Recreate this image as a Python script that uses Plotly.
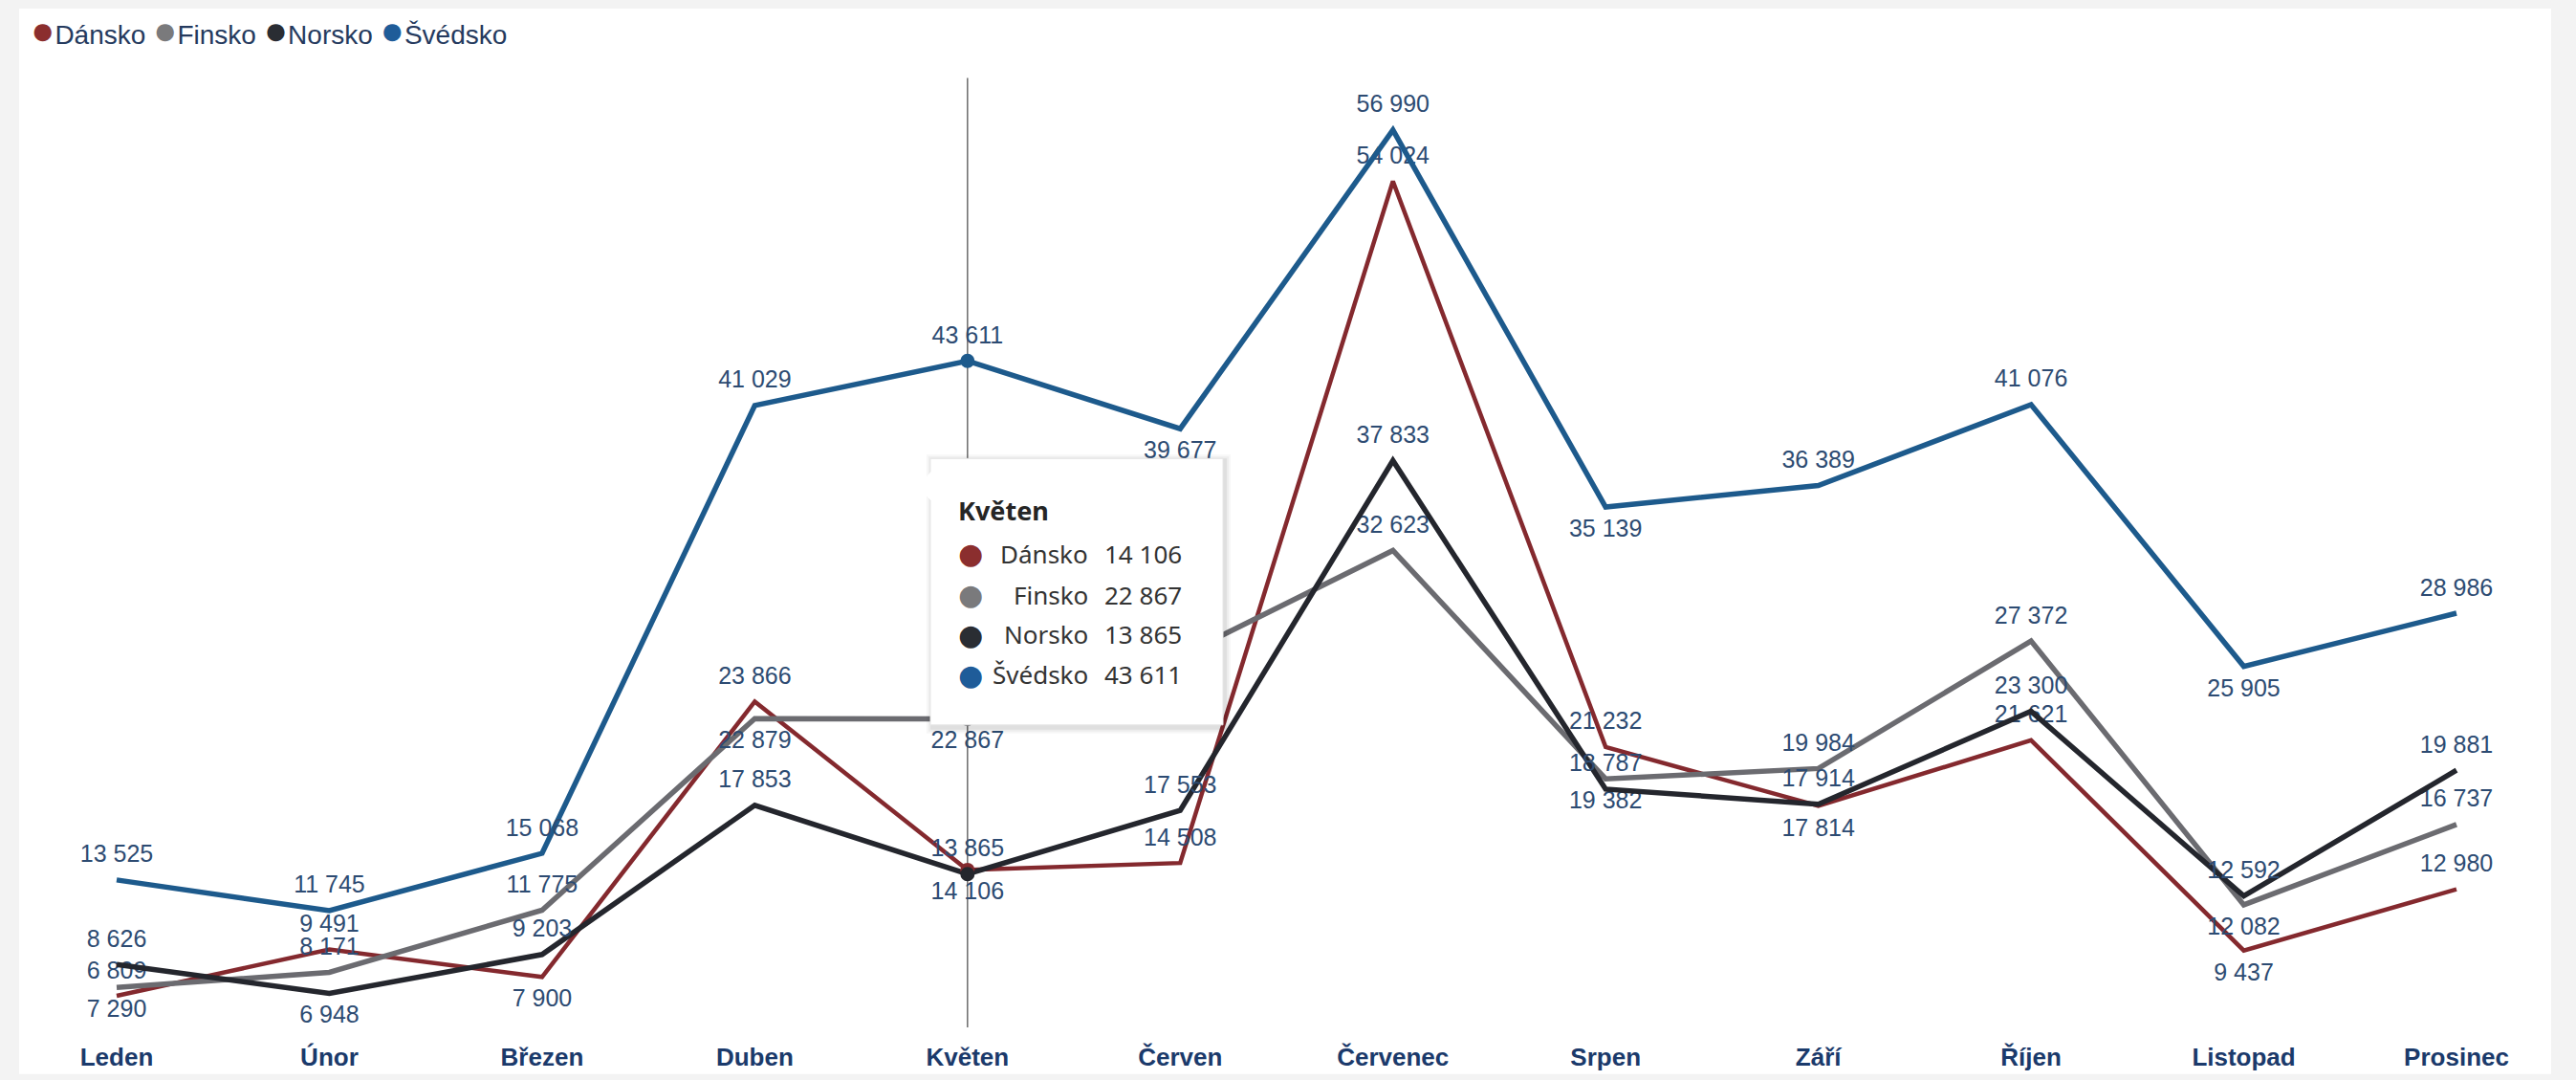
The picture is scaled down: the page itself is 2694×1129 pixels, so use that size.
import plotly.graph_objects as go

# monthly values per country
months = ['Leden', 'Únor', 'Březen', 'Duben', 'Květen', 'Červen',
          'Červenec', 'Srpen', 'Září', 'Říjen', 'Listopad', 'Prosinec']
dansko = [6809, 9491, 7900, 23866, 14106, 14508, 54024, 21232, 17814, 21621, 9437, 12980]
finsko = [7290, 8171, 11775, 22879, 22867, 26500, 32623, 19382, 19984, 27372, 12082, 16737]
norsko = [8626, 6948, 9203, 17853, 13865, 17553, 37833, 18787, 17914, 23300, 12592, 19881]
svedsko = [13525, 11745, 15068, 41029, 43611, 39677, 56990, 35139, 36389, 41076, 25905, 28986]
hover_month = 4  # Květen

# label placement (t = above, b = below, - = hidden behind tooltip)
pos_dansko = 'ttbtbtttbtbt'
pos_finsko = 'bttbb-tbttbt'
pos_norsko = 'tbtttttttttt'
pos_svedsko = 'tttttbtbttbt'

series = [
	('Dánsko', dansko, '#84292e', '#8b2e2e', 4.5, pos_dansko),
	('Finsko', finsko, '#6b6b70', '#7a7a7c', 5.5, pos_finsko),
	('Norsko', norsko, '#24262d', '#2a2d33', 5.5, pos_norsko),
	('Švédsko', svedsko, '#1d5a8c', '#1f5c99', 5.5, pos_svedsko),
]

W, H = 2694, 1129
L, R, T, B = 20, 2668, 9, 1080


def px(x):
	return (x - L) / (R - L)


def py(y):
	return (B - y) / (B - T)


def fmt(v):
	return f'{v:,}'.replace(',', ' ')


fig = go.Figure()

for name, vals, color, lcolor, width, pos in series:
	fig.add_trace(go.Scatter(
		x=months, y=vals, name=name, mode='lines+markers+text',
		line=dict(color=color, width=width),
		marker=dict(size=18, opacity=0, color=color),
		text=['' if p == '-' else fmt(v) for v, p in zip(vals, pos)],
		textposition=['bottom center' if p == 'b' else 'top center' for p in pos],
		textfont=dict(family='Liberation Sans, Arial', size=25, color='#2d4b72'),
		cliponaxis=False, showlegend=False,
	))

# hover markers on Květen
for name, vals, color, lcolor, width, pos in series:
	fig.add_trace(go.Scatter(
		x=[months[hover_month]], y=[vals[hover_month]], mode='markers',
		marker=dict(size=15, color=color), showlegend=False,
	))

shapes = [
	# white card
	dict(type='rect', xref='paper', yref='paper', x0=0, x1=1, y0=py(H), y1=1,
		fillcolor='white', line=dict(width=0), layer='below'),
	# hover line
	dict(type='line', xref='x', yref='paper', x0=months[hover_month], x1=months[hover_month],
		y0=0, y1=py(82), line=dict(color='#6a6a6a', width=1.5), layer='below'),
]

# tooltip box with soft shadow
tx0, tx1, ty0, ty1 = 973, 1279, 482, 762
for i, a in enumerate([0.03, 0.04, 0.06]):
	d = 6 - 2 * i
	shapes.append(dict(type='rect', xref='paper', yref='paper',
		x0=px(tx0 - d + 2), x1=px(tx1 + d + 2), y0=py(ty1 + d + 3), y1=py(ty0 - d + 2),
		fillcolor=f'rgba(0,0,0,{a})', line=dict(width=0), layer='above'))
shapes.append(dict(type='rect', xref='paper', yref='paper',
	x0=px(tx0), x1=px(tx1), y0=py(ty1), y1=py(ty0),
	fillcolor='white', line=dict(color='#e6e6e6', width=1), layer='above'))
shapes.append(dict(type='path', xref='paper', yref='paper',
	path=f'M {px(tx0 + 1)} {py(496)} L {px(960)} {py(511)} L {px(tx0 + 1)} {py(526)} Z',
	fillcolor='white', line=dict(color='white', width=1), layer='above'))

# legend: coloured dot directly before each name
legend_text = ' '.join(
	f"<span style='color:{lcolor};font-size:42px'>●</span>{name}"
	for name, vals, color, lcolor, width, pos in series
)
annotations = [dict(
	xref='paper', yref='paper', x=px(30), y=py(32), xanchor='left', yanchor='middle',
	text=legend_text, showarrow=False,
	font=dict(family='Liberation Sans, Arial', size=28, color='#253a5e'),
)]

annotations.append(dict(
	xref='paper', yref='paper', x=px(1000), y=py(536), xanchor='left', yanchor='middle',
	text='<b>Květen</b>', showarrow=False,
	font=dict(family='Noto Sans', size=27, color='#252525'),
))
row_y = [582, 625, 667, 709]
for (name, vals, color, lcolor, width, pos), ry in zip(series, row_y):
	annotations.append(dict(
		xref='paper', yref='paper', x=px(1015), y=py(ry), xanchor='center', yanchor='middle',
		text='●', showarrow=False, font=dict(family='DejaVu Sans', size=30, color=lcolor)))
	annotations.append(dict(
		xref='paper', yref='paper', x=px(1140), y=py(ry), xanchor='right', yanchor='middle',
		text=name, showarrow=False, font=dict(family='Noto Sans', size=26, color='#333333')))
	annotations.append(dict(
		xref='paper', yref='paper', x=px(1153), y=py(ry), xanchor='left', yanchor='middle',
		text=fmt(vals[hover_month]), showarrow=False, font=dict(family='Noto Sans', size=26, color='#333333')))

fig.update_layout(
	width=W, height=H,
	margin=dict(l=L, r=W - R, t=T, b=H - B),
	paper_bgcolor='#f3f3f3',
	plot_bgcolor='white',
	hovermode=False,
	showlegend=False,
	shapes=shapes,
	annotations=annotations,
)
fig.update_xaxes(
	range=[-0.4585, 11.445], showgrid=False, zeroline=False, showline=False,
	ticks='outside', ticklen=8, tickcolor='rgba(0,0,0,0)',
	tickfont=dict(family='Liberation Sans, Arial', size=26, color='#1b3a6b', weight='bold'),
)
fig.update_yaxes(range=[4979, 64030], visible=False)

fig.write_html('out.html', config={'displayModeBar': False},
	post_script="document.body.style.margin='0px';")
